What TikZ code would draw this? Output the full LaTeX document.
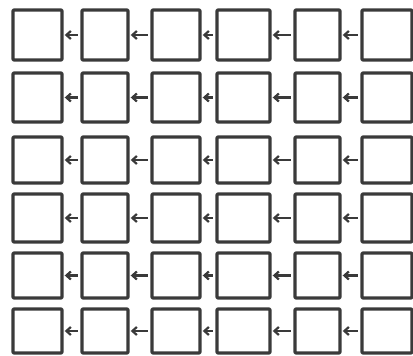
\documentclass[tikz,border=0pt]{standalone}
\usepackage{xcolor}
\usepackage{tikz}
\usetikzlibrary{arrows.meta}
\definecolor{penink}{RGB}{58,58,58}

\begin{document}
\begin{tikzpicture}[x=1pt, y=-1pt,
  sq/.style={rectangle, draw=penink, line width=3.4pt, line join=round,
             rounded corners=1pt, inner sep=0pt},
  arr/.style={-{Straight Barb[length=4.5pt, width=8pt]}, line width=2.2pt, penink,
              shorten >=1pt, shorten <=2.5pt}]
\useasboundingbox (0,0) rectangle (413,356);

\foreach \r/\t/\b in {1/10/60, 2/73/122, 3/137/183, 4/194/242, 5/253/298, 6/309/353}
  \foreach \c/\l/\rr in {1/13/62, 2/82/128, 3/152/200, 4/217/270, 5/295/340, 6/362/412}
    \node[sq, minimum width={\rr-\l}, minimum height={\b-\t}] (b\r\c)
      at ({(\l+\rr)/2},{(\t+\b)/2}) {};

% each box points back at the one on its left
\foreach \r in {1,...,6}
  \foreach \c in {1,...,5} {
    \pgfmathtruncatemacro\nxt{\c+1}
    \draw[arr] (b\r\nxt.west) -- (b\r\c.east);
  }
\end{tikzpicture}
\end{document}
